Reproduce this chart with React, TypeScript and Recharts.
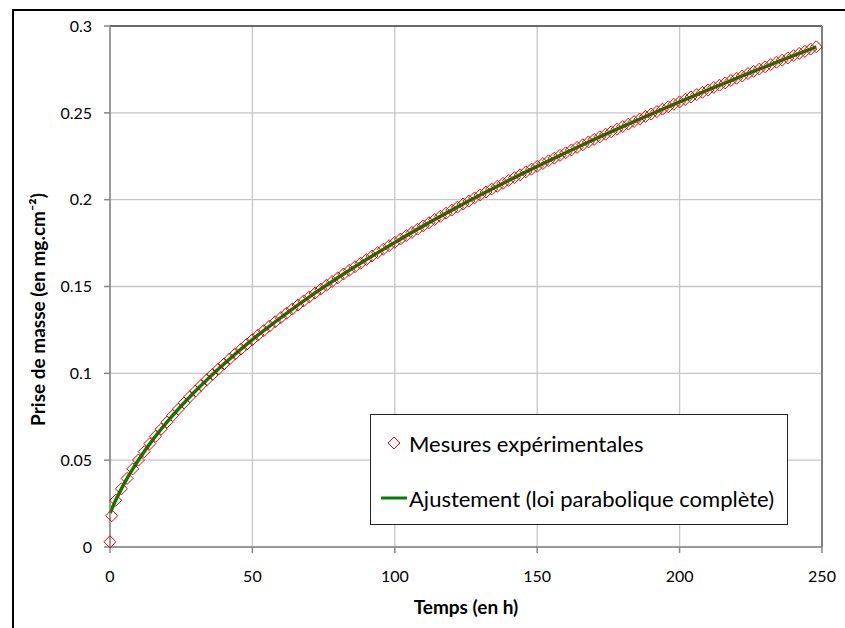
import React from 'react'
import { ComposedChart, Scatter, Line, XAxis, YAxis, CartesianGrid, Legend, ReferenceLine } from 'recharts'

// mesures : temps (h) et prise de masse (mg.cm-2)
const mesureTemps = [
  0, 0.6,
  2, 4, 6, 8, 10, 12, 14, 16, 18, 20,
  22, 24, 26, 28, 30, 32, 34, 36, 38, 40,
  42, 44, 46, 48, 50, 52, 54, 56, 58, 60,
  62, 64, 66, 68, 70, 72, 74, 76, 78, 80,
  82, 84, 86, 88, 90, 92, 94, 96, 98, 100,
  102, 104, 106, 108, 110, 112, 114, 116, 118, 120,
  122, 124, 126, 128, 130, 132, 134, 136, 138, 140,
  142, 144, 146, 148, 150, 152, 154, 156, 158, 160,
  162, 164, 166, 168, 170, 172, 174, 176, 178, 180,
  182, 184, 186, 188, 190, 192, 194, 196, 198, 200,
  202, 204, 206, 208, 210, 212, 214, 216, 218, 220,
  222, 224, 226, 228, 230, 232, 234, 236, 238, 240,
  242, 244, 246, 248,
]
const mesureMasse = [
  0.003, 0.018,
  0.0269, 0.0335, 0.0395, 0.045, 0.0501, 0.0549, 0.0595, 0.0638, 0.0679, 0.0719,
  0.0757, 0.0794, 0.083, 0.0865, 0.0898, 0.0931, 0.0963, 0.0994, 0.1024, 0.1054,
  0.1083, 0.1112, 0.1139, 0.1167, 0.1194, 0.122, 0.1246, 0.1272, 0.1297, 0.1321,
  0.1346, 0.137, 0.1393, 0.1417, 0.144, 0.1462, 0.1485, 0.1507, 0.1529, 0.155,
  0.1572, 0.1593, 0.1614, 0.1634, 0.1655, 0.1675, 0.1695, 0.1715, 0.1735, 0.1754,
  0.1773, 0.1793, 0.1811, 0.183, 0.1849, 0.1867, 0.1886, 0.1904, 0.1922, 0.194,
  0.1957, 0.1975, 0.1992, 0.201, 0.2027, 0.2044, 0.2061, 0.2077, 0.2094, 0.2111,
  0.2127, 0.2143, 0.216, 0.2176, 0.2192, 0.2208, 0.2224, 0.2239, 0.2255, 0.227,
  0.2286, 0.2301, 0.2316, 0.2332, 0.2347, 0.2362, 0.2377, 0.2391, 0.2406, 0.2421,
  0.2435, 0.245, 0.2464, 0.2479, 0.2493, 0.2507, 0.2521, 0.2535, 0.2549, 0.2563,
  0.2577, 0.2591, 0.2605, 0.2618, 0.2632, 0.2646, 0.2659, 0.2672, 0.2686, 0.2699,
  0.2712, 0.2726, 0.2739, 0.2752, 0.2765, 0.2778, 0.2791, 0.2803, 0.2816, 0.2829,
  0.2842, 0.2854, 0.2867, 0.288,
]

// courbe d'ajustement (loi parabolique complete)
const ajustTemps = [0, 2, 4, 6, 8, 10, 15, 20, 30, 40, 50, 60, 70, 80, 90, 100, 110, 120, 130, 140, 150, 160, 170, 180, 190, 200, 210, 220, 230, 240, 248]
const ajustMasse = [0.0195, 0.0269, 0.0335, 0.0395, 0.045, 0.0501, 0.0617, 0.0719, 0.0898, 0.1054, 0.1194, 0.1321, 0.144, 0.155, 0.1655, 0.1754, 0.1849, 0.194, 0.2027, 0.2111, 0.2192, 0.227, 0.2347, 0.2421, 0.2493, 0.2563, 0.2632, 0.2699, 0.2765, 0.2829, 0.288]

const xTicks = [0, 50, 100, 150, 200, 250]
const yTicks = [0, 0.05, 0.1, 0.15, 0.2, 0.25, 0.3]

const mesures = mesureTemps.map((t, i) => ({ t, m: mesureMasse[i] }))
const ajustement = ajustTemps.map((t, i) => ({ t, m: ajustMasse[i] }))

const FONT = 'Lato, "Open Sans", sans-serif'
const ROUGE = '#e00000'
const VERT = '#008000'

const Losange = (props: any) => {
  const { cx, cy } = props
  if (cx == null || cy == null) return null
  const r = 6
  return (
    <path
      d={`M${cx},${cy - r}L${cx + r},${cy}L${cx},${cy + r}L${cx - r},${cy}Z`}
      fill="none"
      stroke={ROUGE}
      strokeWidth={1}
    />
  )
}

const Legende = (props: any) => {
  // marqueurs d'abord, puis la courbe
  const payload = [...(props.payload || [])].sort((a: any, b: any) => (a.type === 'line' ? 1 : 0) - (b.type === 'line' ? 1 : 0))
  return (
    <div
      style={{
        width: 418,
        height: 111,
        boxSizing: 'border-box',
        border: '1px solid #222',
        background: '#fff',
        fontFamily: FONT,
        fontSize: 22,
        color: '#000',
        position: 'relative',
      }}
    >
      {payload.map((entry: any, i: number) => (
        <div
          key={i}
          style={{ position: 'absolute', left: 0, top: i === 0 ? 13 : 68, height: 30, display: 'flex', alignItems: 'center', whiteSpace: 'nowrap' }}
        >
          <svg width={38} height={30} style={{ display: 'block' }}>
            {entry.type === 'line' ? (
              <line x1={10} y1={15} x2={36} y2={15} stroke={VERT} strokeWidth={3} />
            ) : (
              <path d="M23,9L29,15L23,21L17,15Z" fill="none" stroke={ROUGE} strokeWidth={1} />
            )}
          </svg>
          <span>{entry.value}</span>
        </div>
      ))}
    </div>
  )
}

const TitreY = (props: any) => {
  const vb = props.viewBox || {}
  const x = vb.x + 37
  const y = vb.y + vb.height / 2 + 23
  return (
    <text x={x} y={y} transform={`rotate(-90, ${x}, ${y})`} textAnchor="middle" dominantBaseline="central" fontFamily={FONT} fontWeight="bold" fontSize={19} fill="#000">
      Prise de masse  (en mg.cm⁻²)
    </text>
  )
}

const TitreX = (props: any) => {
  const vb = props.viewBox || {}
  const x = vb.x + vb.width / 2
  const y = vb.y + 59
  return (
    <text x={x} y={y} textAnchor="middle" dominantBaseline="central" fontFamily={FONT} fontWeight="bold" fontSize={19} fill="#000">
      Temps (en h)
    </text>
  )
}

export default function App() {
  return (
    <div style={{ position: 'fixed', left: 0, top: 0, width: 845, height: 628, overflow: 'hidden', background: '#fff' }}>
      <div style={{ position: 'absolute', left: 12, top: 9, width: 900, height: 700, border: '2px solid #000', boxSizing: 'border-box' }} />
      <div style={{ position: 'absolute', left: 0, top: 0 }}>
        <ComposedChart width={845} height={628} margin={{ top: 26, right: 23, bottom: 0, left: 0 }}>
          <CartesianGrid stroke="#c6c6c6" strokeWidth={1.3} />
          <XAxis
            type="number"
            dataKey="t"
            domain={[0, 250]}
            ticks={xTicks}
            height={81}
            stroke="#868686"
            strokeWidth={1.5}
            tickSize={6}
            tickMargin={18}
            tick={{ fill: '#000', fontSize: 16, fontFamily: FONT }}
            label={{ content: (p: any) => <TitreX {...p} /> }}
          />
          <YAxis
            type="number"
            domain={[0, 0.3]}
            ticks={yTicks}
            width={110}
            stroke="#868686"
            strokeWidth={1.5}
            tickSize={6}
            tickMargin={12}
            tick={{ fill: '#000', fontSize: 16, fontFamily: FONT }}
            label={{ content: (p: any) => <TitreY {...p} /> }}
          />
          <ReferenceLine y={0.3} stroke="#000" strokeWidth={1} />
          <ReferenceLine x={250} stroke="#7f7f7f" strokeWidth={2} />
          <Scatter
            name="Mesures expérimentales"
            data={mesures}
            dataKey="m"
            legendType="diamond"
            shape={<Losange />}
            isAnimationActive={false}
          />
          <Line
            name="Ajustement (loi parabolique complète)"
            data={ajustement}
            dataKey="m"
            type="monotone"
            stroke={VERT}
            strokeWidth={3.5}
            dot={false}
            legendType="line"
            isAnimationActive={false}
          />
          <Legend
            layout="vertical"
            align="center"
            verticalAlign="middle"
            wrapperStyle={{ left: 370, top: 414, width: 418, height: 111 }}
            content={<Legende />}
          />
        </ComposedChart>
      </div>
    </div>
  )
}
